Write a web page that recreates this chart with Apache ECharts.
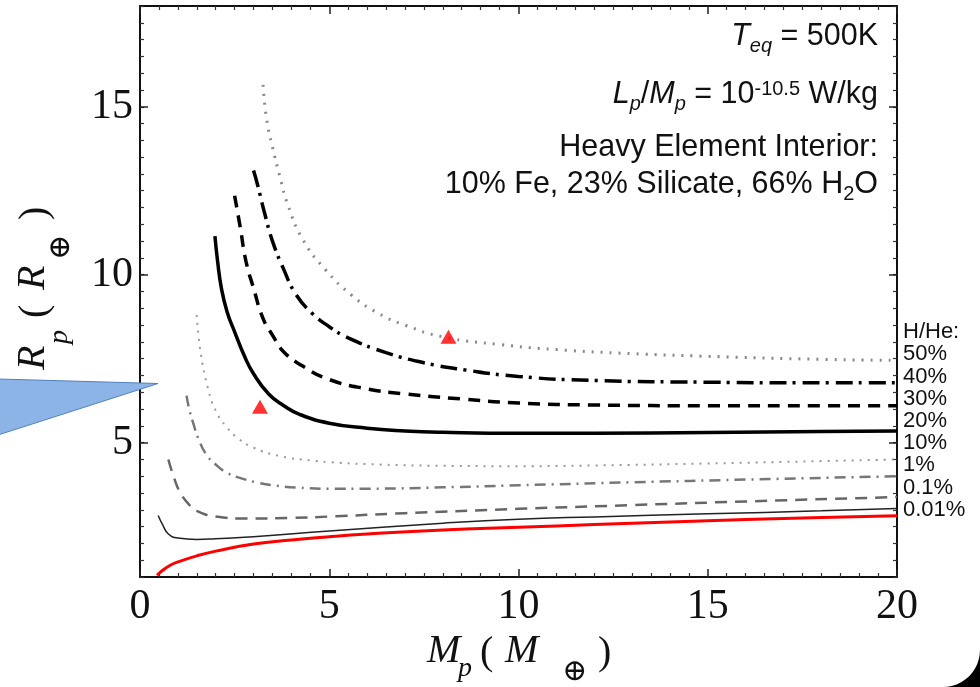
<!DOCTYPE html>
<html>
<head>
<meta charset="utf-8" />
<title>Rp vs Mp</title>
<script src="https://cdn.jsdelivr.net/npm/echarts@6.0.0/dist/echarts.min.js"></script>
<style>
  html, body { margin: 0; padding: 0; background: #fff; }
  #main { width: 980px; height: 687px; }
</style>
</head>
<body>
<div id="main"></div>
<script type="text/javascript">
// planet mass (Earth masses) and radius (Earth radii) for each H/He fraction
var mPure = [0.45, 0.6, 0.8, 1, 1.5, 2, 3, 4, 5, 6, 8, 10, 12, 14, 16, 18, 20];
var rPure = [1.05, 1.2, 1.35, 1.45, 1.63, 1.77, 1.98, 2.1, 2.2, 2.28, 2.4, 2.48, 2.56, 2.64, 2.71, 2.77, 2.82];

var m001 = [0.48, 0.6, 0.75, 1, 1.5, 2, 3, 5, 8, 10, 12, 15, 18, 20];
var r001 = [2.83, 2.55, 2.28, 2.16, 2.12, 2.14, 2.2, 2.37, 2.6, 2.72, 2.79, 2.88, 2.97, 3.04];

var m01 = [0.75, 0.9, 1.06, 1.3, 1.5, 2, 2.8, 4, 5, 7, 10, 13, 16, 20];
var r01 = [4.5, 3.95, 3.52, 3.15, 2.97, 2.8, 2.74, 2.76, 2.8, 2.9, 3.03, 3.14, 3.25, 3.38];

var m1 = [1.23, 1.3, 1.4, 1.55, 1.75, 2, 2.3, 2.7, 3.1, 3.6, 4.2, 5, 6, 8, 10, 13, 16, 20];
var r1 = [6.4, 6.0, 5.6, 5.1, 4.65, 4.35, 4.1, 3.93, 3.81, 3.72, 3.66, 3.63, 3.63, 3.67, 3.73, 3.82, 3.9, 4.0];

var m10 = [1.5, 1.6, 1.8, 2, 2.3, 2.6, 3, 3.7, 4.5, 5, 6, 8, 10, 12, 15, 18, 20];
var r10 = [8.8, 7.7, 6.6, 5.95, 5.45, 5.12, 4.85, 4.6, 4.47, 4.42, 4.36, 4.31, 4.3, 4.32, 4.38, 4.45, 4.5];

var m20 = [1.98, 2.05, 2.15, 2.3, 2.5, 2.75, 3, 3.4, 3.8, 4.2, 5, 6, 7, 8, 10, 12, 15, 18, 20];
var r20 = [11.15, 10.4, 9.6, 8.9, 8.3, 7.6, 7.05, 6.45, 6.1, 5.85, 5.58, 5.43, 5.35, 5.31, 5.28, 5.28, 5.3, 5.33, 5.35];

var m30 = [2.5, 2.65, 2.8, 3, 3.25, 3.5, 3.8, 4.3, 5, 6, 7, 8.5, 10, 12, 15, 18, 20];
var r30 = [12.35, 11.4, 10.4, 9.6, 8.7, 8.2, 7.7, 7.28, 6.88, 6.6, 6.45, 6.3, 6.18, 6.12, 6.1, 6.1, 6.1];

var m40 = [3, 3.1, 3.3, 3.5, 3.8, 4.1, 4.5, 5, 5.5, 6.5, 7.5, 8.5, 10, 12, 15, 18, 20];
var r40 = [13.1, 12.7, 11.8, 11.0, 10.15, 9.45, 8.9, 8.45, 8.12, 7.68, 7.38, 7.18, 6.97, 6.85, 6.8, 6.78, 6.78];

var m50 = [3.25, 3.35, 3.5, 3.7, 3.9, 4.3, 4.9, 5.6, 6.3, 7, 8, 9.5, 11, 13, 15, 18, 20];
var r50 = [15.65, 14.6, 13.8, 12.9, 12.1, 11.05, 10.15, 9.38, 8.85, 8.5, 8.15, 7.92, 7.77, 7.65, 7.57, 7.48, 7.45];

// observed planets (red triangles)
var obsM = [3.17, 8.15];
var obsR = [6.07, 8.15];

var yMajor = [5, 10, 15];
var hheLabels = ['H/He:', '50%', '40%', '30%', '20%', '10%', '1%', '0.1%', '0.01%'];

var chartDom = document.getElementById('main');
var myChart = echarts.init(chartDom);

function pairs(xs, ys) {
  return xs.map(function (x, i) { return [x, ys[i]]; });
}

function curve(name, xs, ys, color, width, dash) {
  return {
    name: name,
    type: 'line',
    data: pairs(xs, ys),
    showSymbol: false,
    symbol: 'none',
    smooth: 0.5,
    silent: true,
    z: 3,
    lineStyle: { color: color, width: width, type: dash || 'solid' }
  };
}

var SERIF = '"Liberation Serif", "Times New Roman", serif';
var SANS = '"Liberation Sans", Arial, sans-serif';

var frameLine = { show: true, onZero: false, lineStyle: { color: '#111', width: 2 } };
var minorTickStyle = { color: '#333', width: 1.2 };
var majorTickStyle = { color: '#222', width: 1.5 };

function xAx(pos, showLabel) {
  return {
    type: 'value', position: pos, min: 0, max: 20, interval: 5,
    axisLine: frameLine,
    axisTick: { show: true, inside: true, length: 8, lineStyle: majorTickStyle },
    minorTick: { show: true, splitNumber: 10, length: 4, lineStyle: minorTickStyle },
    splitLine: { show: false }, minorSplitLine: { show: false },
    axisLabel: {
      show: showLabel, margin: 9, fontFamily: SERIF, fontSize: 42, color: '#111',
      showMinLabel: true, showMaxLabel: true
    }
  };
}

function yMinor(pos, showLabel) {
  return {
    type: 'value', position: pos, min: 1, max: 18, interval: 0.5,
    axisLine: frameLine,
    axisTick: { show: true, inside: true, length: 4, lineStyle: minorTickStyle },
    splitLine: { show: false },
    axisLabel: {
      show: showLabel, customValues: yMajor, margin: 7,
      fontFamily: SERIF, fontSize: 42, color: '#111'
    }
  };
}

function yMajorAx(pos) {
  return {
    type: 'value', position: pos, min: 1, max: 18,
    axisLine: { show: false, onZero: false },
    axisTick: { show: true, inside: true, length: 8, customValues: yMajor, lineStyle: majorTickStyle },
    splitLine: { show: false },
    axisLabel: { show: false }
  };
}

function txt(s, x, y, size, italic, family) {
  return {
    type: 'text', x: x, y: y, silent: true,
    style: {
      text: s, fill: '#111', fontSize: size, fontFamily: family || SERIF,
      fontStyle: italic ? 'italic' : 'normal', align: 'left', verticalAlign: 'middle'
    }
  };
}

var OPLUS = '\u2295';
var OFONT = '"DejaVu Serif", serif';

var richStyles = {
  n: { fontSize: 30.5, fontFamily: SANS, lineHeight: 38, fill: '#111' },
  it: { fontSize: 30.5, fontFamily: SANS, fontStyle: 'italic', lineHeight: 38, fill: '#111' },
  sub: { fontSize: 20, fontFamily: SANS, fontStyle: 'italic', lineHeight: 20, verticalAlign: 'bottom', fill: '#111' },
  sub2: { fontSize: 20, fontFamily: SANS, lineHeight: 20, verticalAlign: 'bottom', fill: '#111' },
  sup: { fontSize: 20, fontFamily: SANS, lineHeight: 20, padding: [3, 0, 0, 0], verticalAlign: 'top', fill: '#111' }
};

function note(s, y) {
  return {
    type: 'text', x: 878, y: y, silent: true,
    style: { text: s, rich: richStyles, align: 'right', verticalAlign: 'middle' }
  };
}

// outline of the dark rounded screenshot corner
var cornerPts = [[980, 687]];
for (var k = 0; k <= 12; k++) {
  var a = (k / 12) * Math.PI / 2;
  cornerPts.push([943 + 37 * Math.cos(a), 650 + 37 * Math.sin(a)]);
}

option = {
  animation: false,
  backgroundColor: '#fff',
  grid: { left: 140, right: 83, top: 6, bottom: 110 },
  xAxis: [xAx('bottom', true), xAx('top', false)],
  yAxis: [yMinor('left', true), yMajorAx('left'), yMinor('right', false), yMajorAx('right')],
  series: [
    curve('0%', mPure, rPure, '#ff0000', 3),
    curve('0.01%', m001, r001, '#222', 1.5),
    curve('0.1%', m01, r01, '#666', 2.5, [12, 8]),
    curve('1%', m1, r1, '#777', 2.5, [11, 6, 2, 6]),
    curve('10%', m10, r10, '#999', 2, [2, 6]),
    curve('20%', m20, r20, '#000', 3.5),
    curve('30%', m30, r30, '#000', 3.5, [12, 8]),
    curve('40%', m40, r40, '#000', 3.5, [17, 6, 3, 7]),
    curve('50%', m50, r50, '#888', 3, [2, 7]),
    {
      name: 'planets', type: 'scatter', data: pairs(obsM, obsR),
      symbol: 'triangle', symbolSize: [16, 14], z: 5, silent: true,
      itemStyle: { color: '#ff0000' }
    }
  ],
  graphic: [
    note('{it|T}{sub|eq}{n| = 500K}', 37),
    note('{it|L}{sub|p}{n|/}{it|M}{sub|p}{n| = 10}{sup|-10.5}{n| W/kg}', 95),
    note('{n|Heavy Element Interior:}', 148),
    note('{n|10% Fe, 23% Silicate, 66% H}{sub2|2}{n|O}', 185),
    {
      type: 'text', x: 903, y: 321, silent: true,
      style: {
        text: hheLabels.join('\n'), fontSize: 22, lineHeight: 22.2, fontFamily: SANS,
        fill: '#111', align: 'left', verticalAlign: 'top'
      }
    },
    // x axis title
    txt('M', 427, 651, 40, true),
    txt('p', 458, 669, 28, true),
    txt('(', 480, 653, 40, false),
    txt('M', 505, 651, 40, true),
    txt(OPLUS, 562, 672, 30, false, OFONT),
    txt(')', 598, 653, 40, false),
    // y axis title, rotated
    {
      type: 'group', x: 33, y: 370, rotation: Math.PI / 2,
      children: [
        txt('R', 0, 0, 40, true),
        txt('p', 26, 27, 28, true),
        txt('(', 52, 2, 40, false),
        txt('R', 80, 0, 40, true),
        txt(OPLUS, 110, 28, 30, false, OFONT),
        txt(')', 150, 2, 40, false)
      ]
    },
    // call-out bubble pointing into the plot
    {
      type: 'polygon', z: 100, silent: true,
      shape: { points: [[-2, 379], [158, 383.5], [-2, 435]] },
      style: { fill: '#8db4e6', stroke: '#4f81bd', lineWidth: 1 }
    },
    {
      type: 'polygon', z: 100, silent: true,
      shape: { points: cornerPts },
      style: { fill: '#000' }
    }
  ]
};

option && myChart.setOption(option);
</script>
</body>
</html>
